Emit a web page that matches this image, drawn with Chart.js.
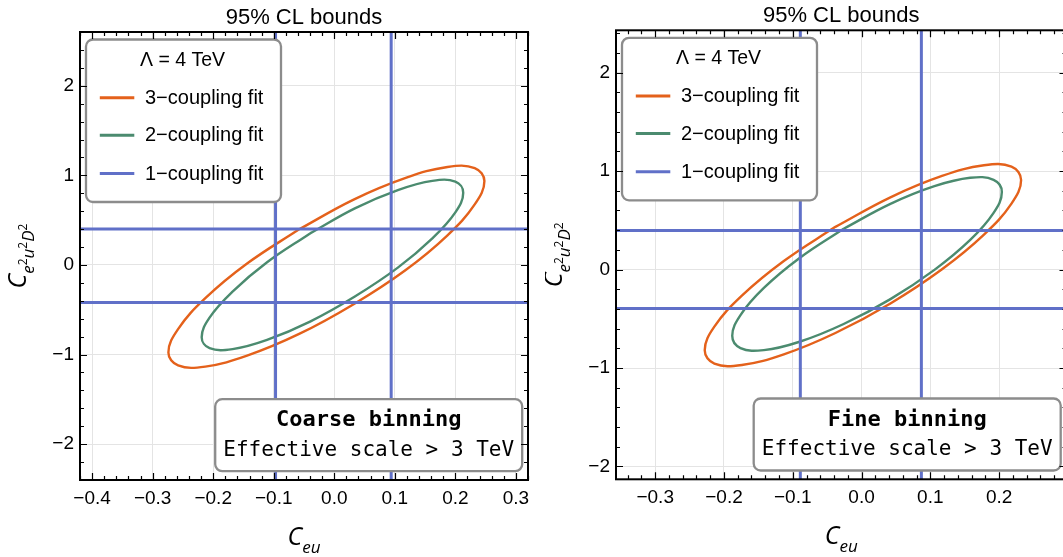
<!DOCTYPE html>
<html>
<head>
<meta charset="utf-8">
<script src="https://cdn.jsdelivr.net/npm/chart.js@4.4.1/dist/chart.umd.min.js"></script>
<style>
  html, body { margin: 0; padding: 0; background: #fff; overflow: hidden; width: 1063px; height: 557px; }
  .panel { position: absolute; top: 0; }
  #panelCoarse { left: 0; width: 545px; height: 557px; }
  #panelFine { left: 545px; width: 530px; height: 557px; }
</style>
</head>
<body>
<div class="panel" id="panelCoarse"><canvas id="coarse" width="545" height="557"></canvas></div>
<div class="panel" id="panelFine"><canvas id="fine" width="530" height="557"></canvas></div>
<script>
// ---------- data ----------
const seriesLabels = ['3\u2212coupling fit', '2\u2212coupling fit', '1\u2212coupling fit'];
const seriesColors = ['#e4611b', '#4b8b6f', '#6070c8'];

// axis ranges and tick values
const coarseXRange = [-0.42, 0.32];
const coarseYRange = [-2.4, 2.6];
const coarseXTicks = [-0.4, -0.3, -0.2, -0.1, 0.0, 0.1, 0.2, 0.3];
const coarseYTicks = [-2, -1, 0, 1, 2];

const fineXRange = [-0.357, 0.298];
const fineYRange = [-2.13, 2.43];
const fineXTicks = [-0.3, -0.2, -0.1, 0.0, 0.1, 0.2];
const fineYTicks = [-2, -1, 0, 1, 2];

// single-coupling 95% CL bounds (C_eu, C_e2u2D2)
const coarseBoundsX = [-0.097, 0.094];
const coarseBoundsY = [-0.42, 0.40];
const fineBoundsX = [-0.089, 0.087];
const fineBoundsY = [-0.396, 0.396];

// 95% CL contours, (C_eu, C_e2u2D2) pairs around each ellipse
const coarse3 = [
  [-0.058, 0.398], [-0.144, 0.016], [-0.213, -0.371], [-0.258, -0.716], [-0.274, -0.976],
  [-0.258, -1.121], [-0.213, -1.134], [-0.144, -1.012], [-0.058, -0.770], [0.032, -0.438],
  [0.118, -0.056], [0.187, 0.331], [0.232, 0.676], [0.248, 0.936], [0.232, 1.081],
  [0.187, 1.094], [0.118, 0.972], [0.032, 0.730], [-0.058, 0.398]
];
const coarse2 = [
  [-0.040, 0.352], [-0.111, 0.030], [-0.168, -0.297], [-0.206, -0.587], [-0.219, -0.807],
  [-0.206, -0.929], [-0.168, -0.939], [-0.111, -0.836], [-0.040, -0.632], [0.034, -0.352],
  [0.105, -0.030], [0.162, 0.297], [0.200, 0.587], [0.213, 0.807], [0.200, 0.929],
  [0.162, 0.939], [0.105, 0.836], [0.034, 0.632], [-0.040, 0.352]
];
const fine3 = [
  [-0.038, 0.434], [-0.113, 0.087], [-0.174, -0.265], [-0.214, -0.580], [-0.228, -0.819],
  [-0.214, -0.955], [-0.174, -0.969], [-0.113, -0.861], [-0.038, -0.644], [0.042, -0.344],
  [0.117, 0.003], [0.178, 0.355], [0.218, 0.670], [0.232, 0.909], [0.218, 1.045],
  [0.178, 1.059], [0.117, 0.951], [0.042, 0.734], [-0.038, 0.434]
];
const fine2 = [
  [-0.026, 0.414], [-0.090, 0.117], [-0.142, -0.187], [-0.176, -0.462], [-0.188, -0.673],
  [-0.176, -0.797], [-0.142, -0.818], [-0.090, -0.733], [-0.026, -0.553], [0.042, -0.300],
  [0.106, -0.003], [0.158, 0.301], [0.192, 0.576], [0.204, 0.787], [0.192, 0.911],
  [0.158, 0.932], [0.106, 0.847], [0.042, 0.667], [-0.026, 0.414]
];

const titleText = '95% CL bounds';
const legendTitle = '\u039b = 4 TeV';
const noteLines = {
  coarse: ['Coarse binning', 'Effective scale > 3 TeV'],
  fine: ['Fine binning', 'Effective scale > 3 TeV']
};

// ---------- helpers ----------
const SANS = '"Liberation Sans", Arial, sans-serif';
const MONO = '"DejaVu Sans Mono", monospace';
const ITAL = '"Open Sans", "Liberation Sans", sans-serif';

const toXY = pts => pts.map(p => ({ x: p[0], y: p[1] }));
const minusFmt = (v, digits) => (v < -1e-9 ? '\u2212' : '') + Math.abs(v).toFixed(digits);

function roundRect(ctx, x, y, w, h, r) {
  ctx.beginPath();
  ctx.moveTo(x + r, y);
  ctx.lineTo(x + w - r, y);
  ctx.arcTo(x + w, y, x + w, y + r, r);
  ctx.lineTo(x + w, y + h - r);
  ctx.arcTo(x + w, y + h, x + w - r, y + h, r);
  ctx.lineTo(x + r, y + h);
  ctx.arcTo(x, y + h, x, y + h - r, r);
  ctx.lineTo(x, y + r);
  ctx.arcTo(x, y, x + r, y, r);
  ctx.closePath();
}

// legend box and the binning note, drawn above the curves
const overlayBoxes = {
  id: 'overlayBoxes',
  afterDatasetsDraw(chart, args, opts) {
    const { ctx, chartArea: a } = chart;
    ctx.save();
    // legend
    const bx = a.left + 6, by = a.top + 7.5, bw = 195, bh = 162.5;
    roundRect(ctx, bx, by, bw, bh, 7);
    ctx.fillStyle = '#fff';
    ctx.fill();
    ctx.lineWidth = 2.3;
    ctx.strokeStyle = '#8c8c8c';
    ctx.stroke();
    ctx.fillStyle = '#000';
    ctx.textBaseline = 'middle';
    ctx.textAlign = 'center';
    ctx.font = '19.5px ' + SANS;
    ctx.fillText(legendTitle, bx + 96.5, a.top + 28.3);
    const rows = [65.7, 103.3, 141.5];
    seriesLabels.forEach((label, i) => {
      const ds = chart.data.datasets.find(d => d.label === label);
      const yy = a.top + rows[i];
      ctx.strokeStyle = ds.borderColor;
      ctx.lineWidth = 3;
      ctx.beginPath();
      ctx.moveTo(a.left + 19.8, yy);
      ctx.lineTo(a.left + 54.3, yy);
      ctx.stroke();
      ctx.textAlign = 'left';
      ctx.font = '20px ' + SANS;
      ctx.fillText(label, a.left + 65, yy + 0.5);
    });
    // binning note
    const nw = 307, nh = 72;
    const nx = a.right - 5.8 - nw, ny = a.bottom - 8.8 - nh;
    roundRect(ctx, nx, ny, nw, nh, 7);
    ctx.fillStyle = '#fff';
    ctx.fill();
    ctx.lineWidth = 2.3;
    ctx.strokeStyle = '#8c8c8c';
    ctx.stroke();
    ctx.fillStyle = '#000';
    ctx.textAlign = 'center';
    ctx.font = 'bold 22px ' + MONO;
    ctx.fillText(opts.note[0], nx + nw / 2, ny + 21.5);
    ctx.font = '21px ' + MONO;
    ctx.fillText(opts.note[1], nx + nw / 2, ny + 51);
    ctx.restore();
  }
};

// draws a run of [text, font, dy] pieces left to right from (x, y)
function drawPieces(ctx, pieces, x, y) {
  let u = x;
  pieces.forEach(([t, f, dy]) => {
    ctx.font = f;
    ctx.fillText(t, u, y + dy);
    u += ctx.measureText(t).width;
  });
}
function piecesWidth(ctx, pieces) {
  let w = 0;
  pieces.forEach(([t, f]) => { ctx.font = f; w += ctx.measureText(t).width; });
  return w;
}

// frame with inward ticks on all four sides, title and axis titles
const frameAndTitles = {
  id: 'frameAndTitles',
  afterDraw(chart) {
    const { ctx, chartArea: a, scales: { x, y } } = chart;
    ctx.save();
    ctx.strokeStyle = '#000';
    ctx.lineWidth = 1.2;
    ctx.beginPath();
    const xStep = 0.02, yStep = 0.2;
    for (let k = Math.ceil(x.min / xStep - 1e-6); k * xStep <= x.max + 1e-9; k++) {
      const v = k * xStep;
      const major = Math.abs(v * 10 - Math.round(v * 10)) < 1e-6;
      const len = major ? 7 : 4;
      const px = Math.round(x.getPixelForValue(v)) + 0.5;
      ctx.moveTo(px, a.bottom); ctx.lineTo(px, a.bottom - len);
      ctx.moveTo(px, a.top); ctx.lineTo(px, a.top + len);
    }
    for (let k = Math.ceil(y.min / yStep - 1e-6); k * yStep <= y.max + 1e-9; k++) {
      const v = k * yStep;
      const major = Math.abs(v - Math.round(v)) < 1e-6;
      const len = major ? 7 : 4;
      const py = Math.round(y.getPixelForValue(v)) + 0.5;
      ctx.moveTo(a.left, py); ctx.lineTo(a.left + len, py);
      ctx.moveTo(a.right, py); ctx.lineTo(a.right - len, py);
    }
    ctx.stroke();
    ctx.lineWidth = 2;
    ctx.strokeRect(a.left, a.top, a.right - a.left, a.bottom - a.top);

    // title
    const cx = (a.left + a.right) / 2;
    ctx.fillStyle = '#000';
    ctx.textAlign = 'center';
    ctx.textBaseline = 'middle';
    ctx.font = '22px ' + SANS;
    ctx.fillText(titleText, cx, a.top - 14);

    // x title: C_eu
    ctx.textAlign = 'left';
    ctx.textBaseline = 'alphabetic';
    const bigFont = 'italic 25px ' + ITAL, subFont = 'italic 17px ' + ITAL, supFont = '12px ' + ITAL;
    const xTitle = [['C', bigFont, 0], ['eu', subFont, 8]];
    const wx = piecesWidth(ctx, xTitle);
    drawPieces(ctx, xTitle, cx - wx / 2, a.bottom + 65);

    // y title: C_{e2u2D2}, rotated
    const yTitle = [
      ['C', bigFont, 0], ['e', subFont, 8], ['2', supFont, 1], ['u', subFont, 8],
      ['2', supFont, 1], ['D', subFont, 8], ['2', supFont, 1]
    ];
    const wy = piecesWidth(ctx, yTitle);
    const cy = (a.top + a.bottom) / 2;
    ctx.translate(a.left - 54, cy);
    ctx.rotate(-Math.PI / 2);
    drawPieces(ctx, yTitle, -wy / 2, 0);
    ctx.restore();
  }
};

function buildDatasets(boundsX, boundsY, xRange, yRange, three, two) {
  const ds = [];
  boundsX.forEach(v => ds.push({
    label: seriesLabels[2], data: [{ x: v, y: yRange[0] }, { x: v, y: yRange[1] }],
    borderColor: seriesColors[2], borderWidth: 3
  }));
  boundsY.forEach(v => ds.push({
    label: seriesLabels[2], data: [{ x: xRange[0], y: v }, { x: xRange[1], y: v }],
    borderColor: seriesColors[2], borderWidth: 3
  }));
  ds.push({ label: seriesLabels[1], data: toXY(two), borderColor: seriesColors[1], borderWidth: 2.4, tension: 0.4 });
  ds.push({ label: seriesLabels[0], data: toXY(three), borderColor: seriesColors[0], borderWidth: 2.4, tension: 0.4 });
  ds.forEach(d => { d.showLine = true; d.pointRadius = 0; d.fill = false; });
  return ds;
}

function makeChart(id, p) {
  return new Chart(document.getElementById(id), {
    type: 'scatter',
    data: { datasets: buildDatasets(p.boundsX, p.boundsY, p.xRange, p.yRange, p.three, p.two) },
    options: {
      responsive: false,
      animation: false,
      devicePixelRatio: 1,
      events: [],
      layout: { padding: { top: p.padTop, right: p.padRight, left: 0, bottom: 0 } },
      elements: { point: { radius: 0 } },
      plugins: {
        legend: { display: false },
        tooltip: { enabled: false },
        overlayBoxes: { note: p.note }
      },
      scales: {
        x: {
          type: 'linear', min: p.xRange[0], max: p.xRange[1],
          afterBuildTicks: s => { s.ticks = p.xTicks.map(v => ({ value: v })); },
          afterFit: s => { s.height = p.xAxisH; },
          grid: { color: '#e4e4e4', lineWidth: 1, drawTicks: false },
          border: { display: false },
          ticks: {
            color: '#000', padding: 7, maxRotation: 0, autoSkip: false,
            font: { family: SANS, size: 19 },
            callback: v => minusFmt(v, 1)
          }
        },
        y: {
          type: 'linear', min: p.yRange[0], max: p.yRange[1],
          afterBuildTicks: s => { s.ticks = p.yTicks.map(v => ({ value: v })); },
          afterFit: s => { s.width = p.yAxisW; },
          grid: { color: '#e4e4e4', lineWidth: 1, drawTicks: false },
          border: { display: false },
          ticks: {
            color: '#000', padding: 6, autoSkip: false,
            font: { family: SANS, size: 19 },
            callback: v => minusFmt(v, 0)
          }
        }
      }
    },
    plugins: [overlayBoxes, frameAndTitles]
  });
}

makeChart('coarse', {
  xRange: coarseXRange, yRange: coarseYRange, xTicks: coarseXTicks, yTicks: coarseYTicks,
  boundsX: coarseBoundsX, boundsY: coarseBoundsY, three: coarse3, two: coarse2,
  note: noteLines.coarse, padTop: 32, padRight: 17, xAxisH: 77, yAxisW: 80
});
makeChart('fine', {
  xRange: fineXRange, yRange: fineYRange, xTicks: fineXTicks, yTicks: fineYTicks,
  boundsX: fineBoundsX, boundsY: fineBoundsY, three: fine3, two: fine2,
  note: noteLines.fine, padTop: 30.3, padRight: 8.5, xAxisH: 77.7, yAxisW: 71
});
</script>
</body>
</html>
